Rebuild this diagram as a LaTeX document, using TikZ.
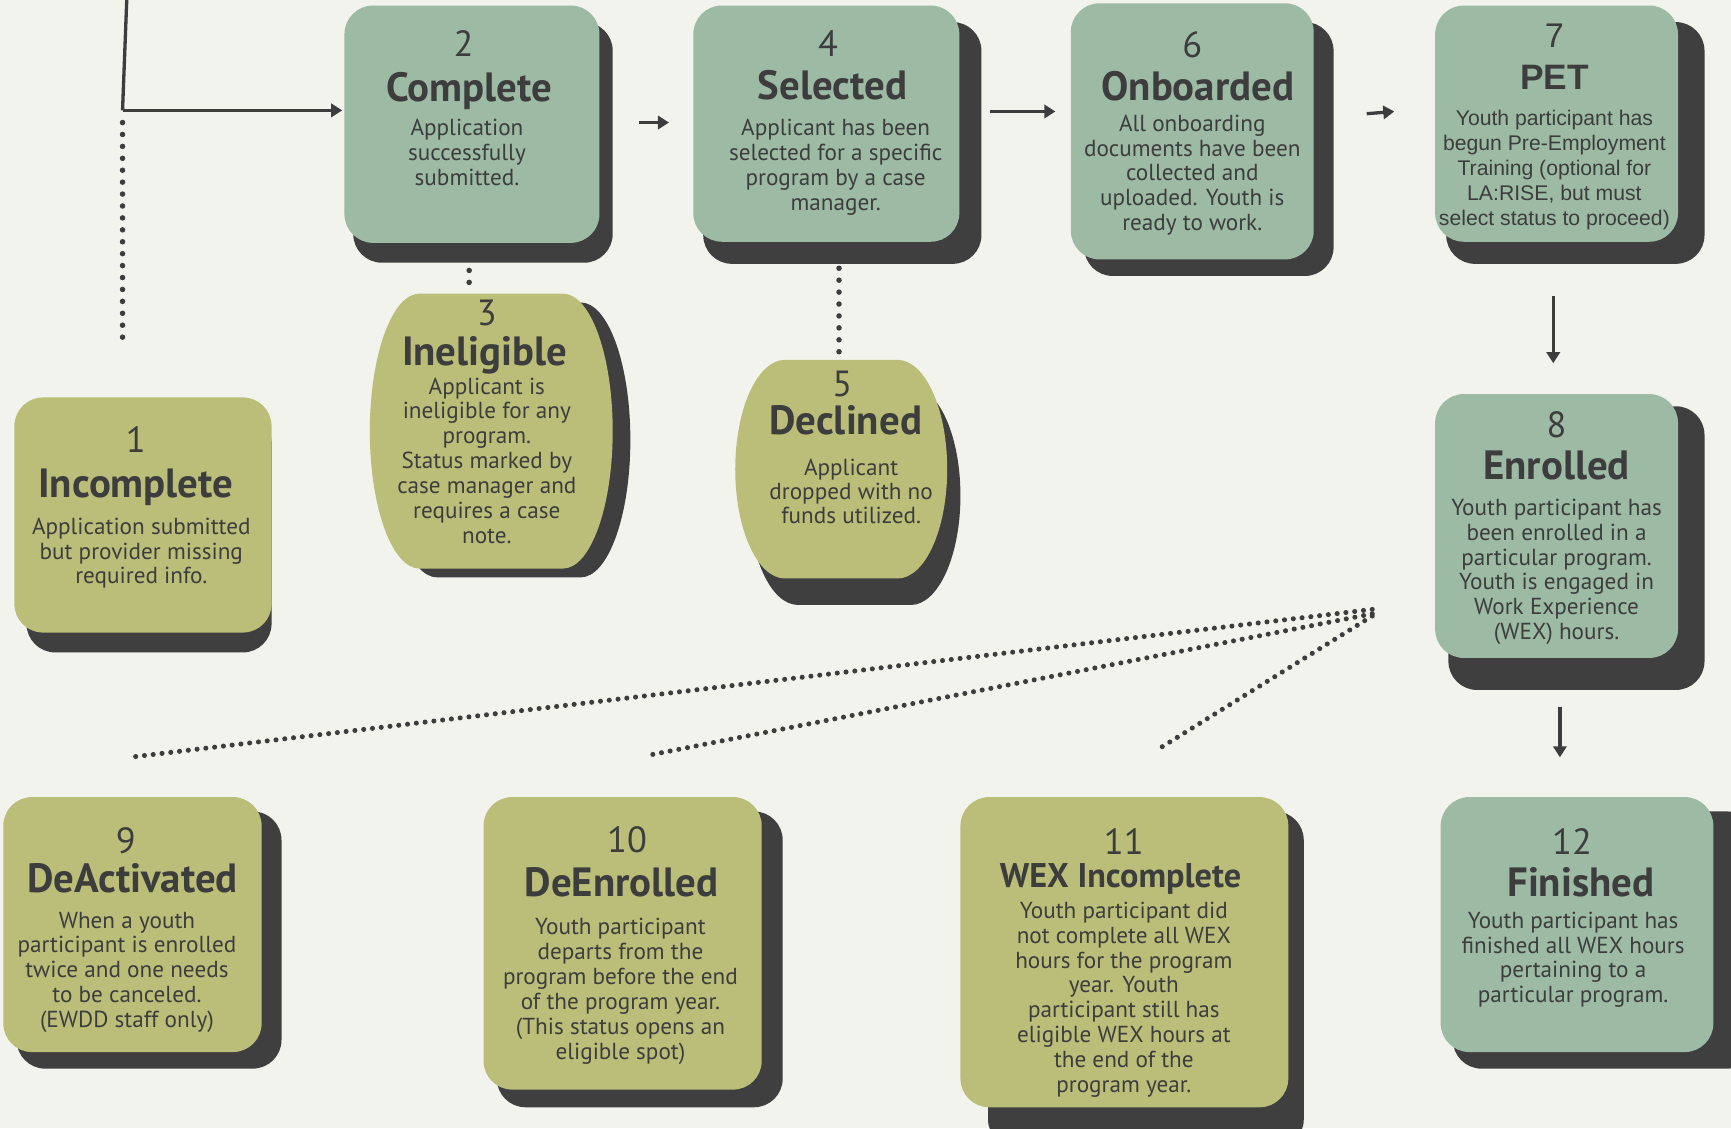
\documentclass[tikz,border=0pt]{standalone}
\usepackage{fontspec}
\setmainfont{PT Sans}
\newfontfamily\arialfont{Liberation Sans}
\usetikzlibrary{arrows.meta}
\definecolor{bgc}{HTML}{F2F3EC}
\definecolor{sage}{HTML}{9CBAA4}
\definecolor{olive}{HTML}{BABE78}
\definecolor{darkc}{HTML}{3F3F3F}
\definecolor{ink}{HTML}{3D3D3D}
\tikzset{
  numtext/.style={anchor=base, inner sep=0, outer sep=0, text=ink, font=\fontsize{33}{33}\selectfont},
  titletext/.style={anchor=base, inner sep=0, outer sep=0, text=ink, font=\bfseries\fontsize{37}{37}\selectfont},
  bodytext/.style={anchor=north, inner sep=0, outer sep=0, text=ink, align=center, font=\fontsize{21}{22.5}\selectfont},
  flow/.style={ink, line width=3pt, -{Triangle[length=10pt,width=12pt]}},
  dots/.style={ink, line width=5pt, line cap=round, dash pattern=on 0pt off 10.8pt},
  fdots/.style={ink, line width=4.6pt, line cap=round, dash pattern=on 0pt off 8pt},
  card/.style={rounded corners=26pt},
}

\begin{document}
\begin{tikzpicture}[x=1pt, y=-1pt]
  \useasboundingbox (0,0) rectangle (1568,1022);
  \clip (0,0) rectangle (1568,1022);
  \fill [bgc] (0,0) rectangle (1568,1022);

  % shadows
  \fill [darkc, card] (24,375) rectangle (246,591);
  \fill [darkc, card] (320,20) rectangle (555,238);
  \fill [darkc, card] (637,20) rectangle (889,239);
  \fill [darkc, card] (982,20) rectangle (1208,250);
  \fill [darkc, card] (1310,20) rectangle (1544,239);
  \fill [darkc, card] (1312,368) rectangle (1544,625);
  \fill [darkc, card] (15,735) rectangle (255,968);
  \fill [darkc, card] (450,735) rectangle (709,1003);
  \fill [darkc, card] (895,735) rectangle (1181,1040);
  \fill [darkc, card] (1316,735) rectangle (1590,968);
  \fill [darkc, shift={(16,8)}] (380,266) -- (510,266) arc[start angle=90, end angle=-90, x radius=45pt, y radius=124.5pt]
    -- (380,515) arc[start angle=270, end angle=90, x radius=45pt, y radius=124.5pt] -- cycle;
  \fill [darkc, shift={(12,24)}] (711,326) -- (813,326) arc[start angle=90, end angle=-90, x radius=45pt, y radius=99pt]
    -- (711,524) arc[start angle=270, end angle=90, x radius=45pt, y radius=99pt] -- cycle;

  % cards
  \fill [olive, card] (13,360) rectangle (246,573);
  \fill [sage, card] (312,5) rectangle (543,220);
  \fill [sage, card] (628,5) rectangle (869,219);
  \fill [sage, card] (970,3) rectangle (1190,235);
  \fill [sage, card] (1300,5) rectangle (1520,219);
  \fill [sage, card] (1300,357) rectangle (1520,596);
  \fill [olive, card] (3,722) rectangle (237,953);
  \fill [olive, card] (438,722) rectangle (690,987);
  \fill [olive, card] (870,722) rectangle (1167,1003);
  \fill [sage, card] (1305,722) rectangle (1552,953);
  \fill [olive] (380,266) -- (510,266) arc[start angle=90, end angle=-90, x radius=45pt, y radius=124.5pt]
    -- (380,515) arc[start angle=270, end angle=90, x radius=45pt, y radius=124.5pt] -- cycle;
  \fill [olive] (711,326) -- (813,326) arc[start angle=90, end angle=-90, x radius=45pt, y radius=99pt]
    -- (711,524) arc[start angle=270, end angle=90, x radius=45pt, y radius=99pt] -- cycle;

  % texts
  \node [numtext] (n1) at (123,410) {1};
  \node [titletext] (t1) at (123,451) {Incomplete};
  \node [bodytext] (d1) at (128,469) {Application submitted\\but provider missing\\required info.};
  \node [numtext] (n2) at (420,51) {2};
  \node [titletext] (t2) at (425,92) {Complete};
  \node [bodytext] (d2) at (423,108) {Application\\successfully\\submitted.};
  \node [numtext] (n3) at (441,295) {3};
  \node [titletext] (t3) at (439,331) {Ineligible};
  \node [bodytext] (d3) at (441,342) {Applicant is\\ineligible for any\\program.\\Status marked by\\case manager and\\requires a case\\note.};
  \node [numtext] (n4) at (750,51) {4};
  \node [titletext] (t4) at (754,90) {Selected};
  \node [bodytext] (d4) at (757,108) {Applicant has been\\selected for a specific\\program by a case\\manager.};
  \node [numtext] (n5) at (763,359) {5};
  \node [titletext] (t5) at (766,394) {Declined};
  \node [bodytext, font=\fontsize{21}{21.5}\selectfont] (d5) at (771,416) {Applicant\\dropped with no\\funds utilized.};
  \node [numtext] (n6) at (1080,52) {6};
  \node [titletext] (t6) at (1085,91) {Onboarded};
  \node [bodytext] (d6) at (1080,104) {All onboarding\\documents have been\\collected and\\uploaded. Youth is\\ready to work.};
  \node [numtext, font=\arialfont\fontsize{31}{31}\selectfont] (n7) at (1408,43) {7};
  \node [titletext, font=\arialfont\bfseries\fontsize{32}{32}\selectfont] (t7) at (1408,81) {PET};
  \node [bodytext, font=\arialfont\fontsize{19.2}{22.5}\selectfont] (d7) at (1408,100) {Youth participant has\\begun Pre-Employment\\Training (optional for\\LA:RISE, but must\\select status to proceed)};
  \node [numtext] (n8) at (1410,396) {8};
  \node [titletext] (t8) at (1410,434) {Enrolled};
  \node [bodytext] (d8) at (1410,452) {Youth participant has\\been enrolled in a\\particular program.\\Youth is engaged in\\Work Experience\\(WEX) hours.};
  \node [numtext] (n9) at (114,773) {9};
  \node [titletext] (t9) at (120,808) {DeActivated};
  \node [bodytext] (d9) at (115,826) {When a youth\\participant is enrolled\\twice and one needs\\to be canceled.\\(EWDD staff only)};
  \node [numtext] (n10) at (568,772) {10};
  \node [titletext] (t10) at (563,812) {DeEnrolled};
  \node [bodytext] (d10) at (562,832) {Youth participant\\departs from the\\program before the end\\of the program year.\\(This status opens an\\eligible spot)};
  \node [numtext] (n11) at (1018,774) {11};
  \node [titletext, font=\bfseries\fontsize{31}{31}\selectfont] (t11) at (1015,804) {WEX Incomplete};
  \node [bodytext] (d11) at (1018,817) {Youth participant did\\not complete all WEX\\hours for the program\\year. Youth\\participant still has\\eligible WEX hours at\\the end of the\\program year.};
  \node [numtext] (n12) at (1424,774) {12};
  \node [titletext] (t12) at (1432,812) {Finished};
  \node [bodytext] (d12) at (1425,826) {Youth participant has\\finished all WEX hours\\pertaining to a\\particular program.};

  % connectors
  \coordinate (start) at (115,-5);
  \coordinate (fork) at (111,100);
  \coordinate (in2) at (310,100);
  \coordinate (stub1) at (111,310);
  \draw [ink, line width=3pt] (start) -- (fork);
  \draw [flow] (fork) -- (in2);
  \draw [dots] ([yshift=-11pt]fork) -- (stub1);

  \coordinate (out2) at (579,111);
  \coordinate (in4) at (606,111);
  \coordinate (out4) at (897,101);
  \coordinate (in6) at (956,101);
  \coordinate (out6) at (1238,103);
  \coordinate (in7) at (1263,101);
  \coordinate (out7) at (1407,268);
  \coordinate (in8) at (1407,329);
  \coordinate (out8) at (1413,640);
  \coordinate (in12) at (1413,686);
  \draw [flow] (out2) -- (in4);
  \draw [flow] (out4) -- (in6);
  \draw [flow] (out6) -- (in7);
  \draw [flow] (out7) -- (in8);
  \draw [flow] (out8) -- (in12);

  \coordinate (low2) at (425,245);
  \coordinate (top3) at (425,262);
  \coordinate (low4) at (760,243);
  \coordinate (top5) at (760,320);
  \draw [dots] (low2) -- (top3);
  \draw [dots] (low4) -- (top5);

  \coordinate (hub) at (1243,552);
  \coordinate (to9) at (117,686);
  \coordinate (to10) at (588,684);
  \coordinate (to11) at (1047,680);
  \draw [fdots] (hub) -- (to9);
  \draw [fdots] ([yshift=-4pt]hub) -- (to10);
  \draw [fdots] ([yshift=-6pt]hub) -- (to11);
\end{tikzpicture}
\end{document}
